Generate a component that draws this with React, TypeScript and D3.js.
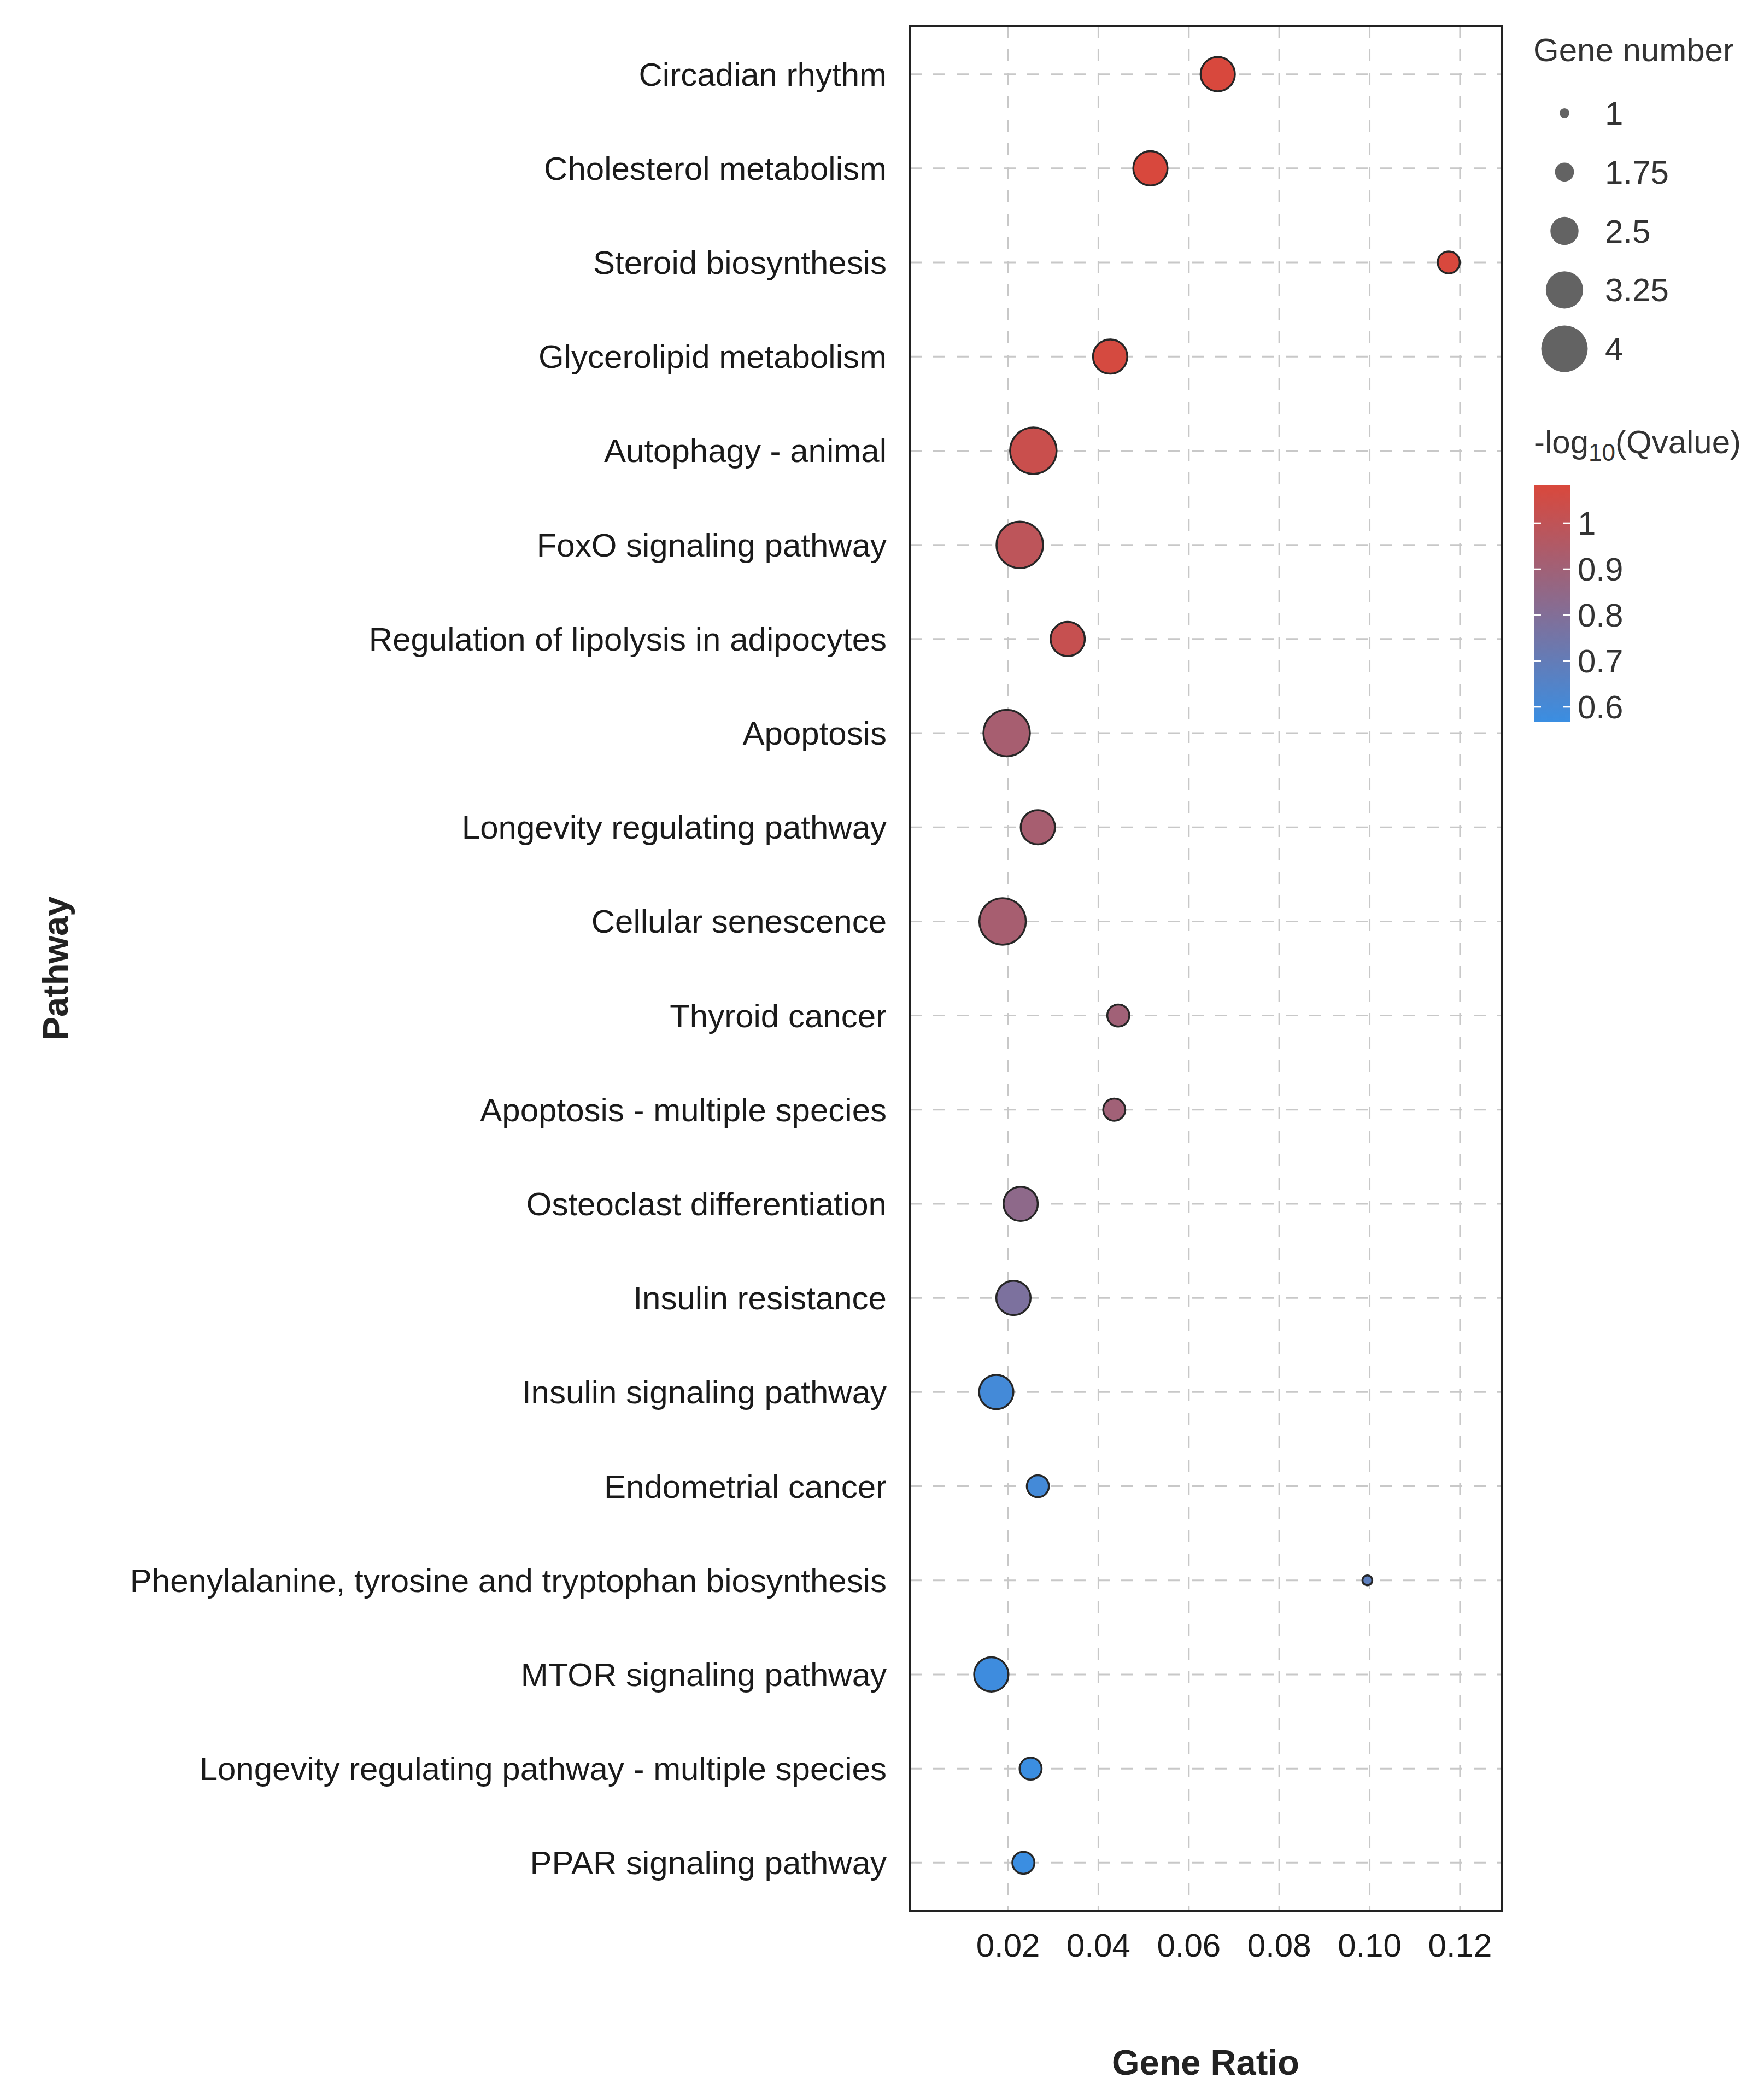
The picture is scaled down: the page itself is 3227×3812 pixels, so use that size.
import React, { useEffect } from 'react';
import * as d3 from 'd3';

// pathways, top to bottom
const pathways = [
  'Circadian rhythm',
  'Cholesterol metabolism',
  'Steroid biosynthesis',
  'Glycerolipid metabolism',
  'Autophagy - animal',
  'FoxO signaling pathway',
  'Regulation of lipolysis in adipocytes',
  'Apoptosis',
  'Longevity regulating pathway',
  'Cellular senescence',
  'Thyroid cancer',
  'Apoptosis - multiple species',
  'Osteoclast differentiation',
  'Insulin resistance',
  'Insulin signaling pathway',
  'Endometrial cancer',
  'Phenylalanine, tyrosine and tryptophan biosynthesis',
  'MTOR signaling pathway',
  'Longevity regulating pathway - multiple species',
  'PPAR signaling pathway',
];
const geneRatio = [
  0.0664, 0.0515, 0.1175, 0.0426, 0.0256, 0.0226, 0.0332, 0.0197, 0.0266, 0.0188,
  0.0444, 0.0435, 0.0228, 0.0212, 0.0174, 0.0266, 0.0995, 0.0163, 0.025, 0.0234,
];
const geneNumber = [3, 3, 2, 3, 4, 4, 3, 4, 3, 4, 2, 2, 3, 3, 3, 2, 1, 3, 2, 2];
const negLogQ = [
  1.08, 1.08, 1.08, 1.07, 1.03, 0.99, 1.02, 0.92, 0.92, 0.92,
  0.9, 0.9, 0.84, 0.78, 0.6, 0.6, 0.68, 0.58, 0.57, 0.57,
];

const xTicks = [0.02, 0.04, 0.06, 0.08, 0.1, 0.12];
const sizeBreaks = [1, 1.75, 2.5, 3.25, 4];
const colorBreaks = [0.6, 0.7, 0.8, 0.9, 1];
const colorDomain: [number, number] = [0.568, 1.082];

const W = 3227;
const H = 3812;
const panel = { left: 1664, right: 2747, top: 47, bottom: 3496 };
const FONT = '"Liberation Sans", Arial, Helvetica, sans-serif';

const App: React.FC = () => {
  useEffect(() => {
    document.body.style.margin = '0';
  }, []);

  const x = d3.scaleLinear().domain([-0.00177, 0.1292]).range([panel.left, panel.right]);
  const y = d3.scalePoint<string>().domain(pathways).range([panel.top, panel.bottom]).padding(0.515);
  const r = d3.scaleLinear().domain([1, 4]).range([9, 42.5]);
  const color = d3.scaleLinear<string>()
    .domain(colorDomain)
    .range(['#3a8ee2', '#d9483c'])
    .interpolate(d3.interpolateRgb);

  // colour bar
  const bar = { x: 2806, width: 66, top: 888, bottom: 1320 };
  const barY = d3.scaleLinear().domain(colorDomain).range([bar.bottom, bar.top]);
  const gradStops = d3.range(0, 1.0001, 0.1);

  // size legend
  const sizeY = d3.scaleLinear().domain([0, sizeBreaks.length - 1]).range([207, 638]);

  return (
    <svg width={W} height={H} style={{ display: 'block', background: '#fff' }} fontFamily={FONT}>
      <defs>
        <linearGradient id="qgrad" x1="0" y1="1" x2="0" y2="0">
          {gradStops.map((t) => (
            <stop key={t} offset={t} stopColor={color(colorDomain[0] + t * (colorDomain[1] - colorDomain[0]))} />
          ))}
        </linearGradient>
      </defs>
      <rect x={0} y={0} width={W} height={H} fill="#fff" />

      {/* grid */}
      <g stroke="#c8c8c8" strokeWidth={3} strokeDasharray="22,21">
        {xTicks.map((t) => (
          <line key={t} x1={x(t)} x2={x(t)} y1={panel.top} y2={panel.bottom} />
        ))}
        {pathways.map((p) => (
          <line key={p} x1={panel.left} x2={panel.right} y1={y(p)} y2={y(p)} />
        ))}
      </g>

      {/* points */}
      <g stroke="#262626" strokeWidth={3.5}>
        {pathways.map((p, i) => (
          <circle key={p} cx={x(geneRatio[i])} cy={y(p)} r={r(geneNumber[i])} fill={color(negLogQ[i])} />
        ))}
      </g>

      {/* panel border */}
      <rect
        x={panel.left}
        y={panel.top}
        width={panel.right - panel.left}
        height={panel.bottom - panel.top}
        fill="none"
        stroke="#222"
        strokeWidth={4}
      />

      {/* y labels */}
      <g fontSize={60} fill="#1a1a1a" textAnchor="end">
        {pathways.map((p) => (
          <text key={p} x={1622} y={y(p)} dy="0.35em">{p}</text>
        ))}
      </g>

      {/* x tick labels */}
      <g fontSize={60} fill="#1a1a1a" textAnchor="middle">
        {xTicks.map((t) => (
          <text key={t} x={x(t)} y={3579}>{d3.format('.2f')(t)}</text>
        ))}
      </g>

      {/* axis titles */}
      <text x={(panel.left + panel.right) / 2} y={3795} fontSize={65} fontWeight="bold" fill="#222" textAnchor="middle">
        Gene Ratio
      </text>
      <text
        transform={`translate(124,${(panel.top + panel.bottom) / 2}) rotate(-90)`}
        fontSize={65}
        fontWeight="bold"
        fill="#222"
        textAnchor="middle"
      >
        Pathway
      </text>

      {/* size legend */}
      <text x={2805} y={112} fontSize={60} fill="#333">Gene number</text>
      {sizeBreaks.map((s, i) => (
        <g key={s}>
          <circle cx={2862} cy={sizeY(i)} r={r(s)} fill="#636363" />
          <text x={2936} y={sizeY(i)} dy="0.35em" fontSize={60} fill="#333">{String(s)}</text>
        </g>
      ))}

      {/* colour legend */}
      <text x={2806} y={829} fontSize={60} fill="#333">
        -log
        <tspan fontSize={44} dy={14}>10</tspan>
        <tspan dy={-14}>(Qvalue)</tspan>
      </text>
      <rect x={bar.x} y={bar.top} width={bar.width} height={bar.bottom - bar.top} fill="url(#qgrad)" />
      {colorBreaks.map((c) => (
        <g key={c}>
          <line x1={bar.x} x2={bar.x + 13} y1={barY(c)} y2={barY(c)} stroke="#fff" strokeWidth={2.5} />
          <line x1={bar.x + bar.width - 13} x2={bar.x + bar.width} y1={barY(c)} y2={barY(c)} stroke="#fff" strokeWidth={2.5} />
          <text x={2886} y={barY(c)} dy="0.35em" fontSize={60} fill="#333">{String(c)}</text>
        </g>
      ))}
    </svg>
  );
};

export default App;
